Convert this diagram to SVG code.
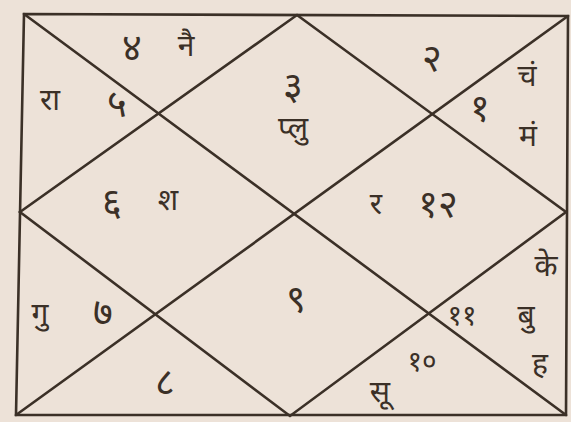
<svg xmlns="http://www.w3.org/2000/svg" width="571" height="422" viewBox="0 0 571 422">
<style>
.ln{stroke:#3b3027;stroke-width:2.6;fill:none;stroke-linecap:round}
.t{font-family:"Noto Sans Devanagari","Noto Sans","DejaVu Sans",sans-serif;font-size:30px;fill:#3b3027;text-anchor:middle;dominant-baseline:central}
.n{font-size:38px}
.s{font-size:28px}
</style>
<rect x="0" y="0" width="571" height="422" fill="#ede2d8"/>
<g id="connectors">
<path class="ln" d="M24,14 L568,16 L566,415 L16,415 Z"/>
<line class="ln" x1="24" y1="14" x2="566" y2="415"/>
<line class="ln" x1="568" y1="16" x2="16" y2="415"/>
<path class="ln" d="M297,15 L566,212 L290,416 L20,212 Z"/>
</g>
<g id="house1"><text class="t n" x="293" y="90">३</text><text class="t" x="293" y="130">प्लु</text></g>
<g id="house2"><text class="t n" x="132" y="52">४</text><text class="t" x="186" y="48">नै</text></g>
<g id="house3"><text class="t" x="50" y="102">रा</text><text class="t n" x="117" y="108">५</text></g>
<g id="house4"><text class="t n" x="112" y="206">६</text><text class="t" x="168" y="202">श</text></g>
<g id="house5"><text class="t" x="40" y="316">गु</text><text class="t n" x="103" y="316">७</text></g>
<g id="house6"><text class="t n" x="165" y="386">८</text></g>
<g id="house7"><text class="t n" x="296" y="303">९</text></g>
<g id="house8"><text class="t s" x="422" y="364">१०</text><text class="t" x="380" y="394">सू</text></g>
<g id="house9"><text class="t s" x="462" y="318">११</text><text class="t" x="526" y="318">बु</text><text class="t" x="546" y="268">के</text><text class="t" x="540" y="366">ह</text></g>
<g id="house10"><text class="t" x="376" y="206">र</text><text class="t n" x="438" y="208">१२</text></g>
<g id="house11"><text class="t n" x="480" y="112">१</text><text class="t" x="527" y="78">चं</text><text class="t" x="528" y="138">मं</text></g>
<g id="house12"><text class="t n" x="432" y="62">२</text></g>
</svg>
